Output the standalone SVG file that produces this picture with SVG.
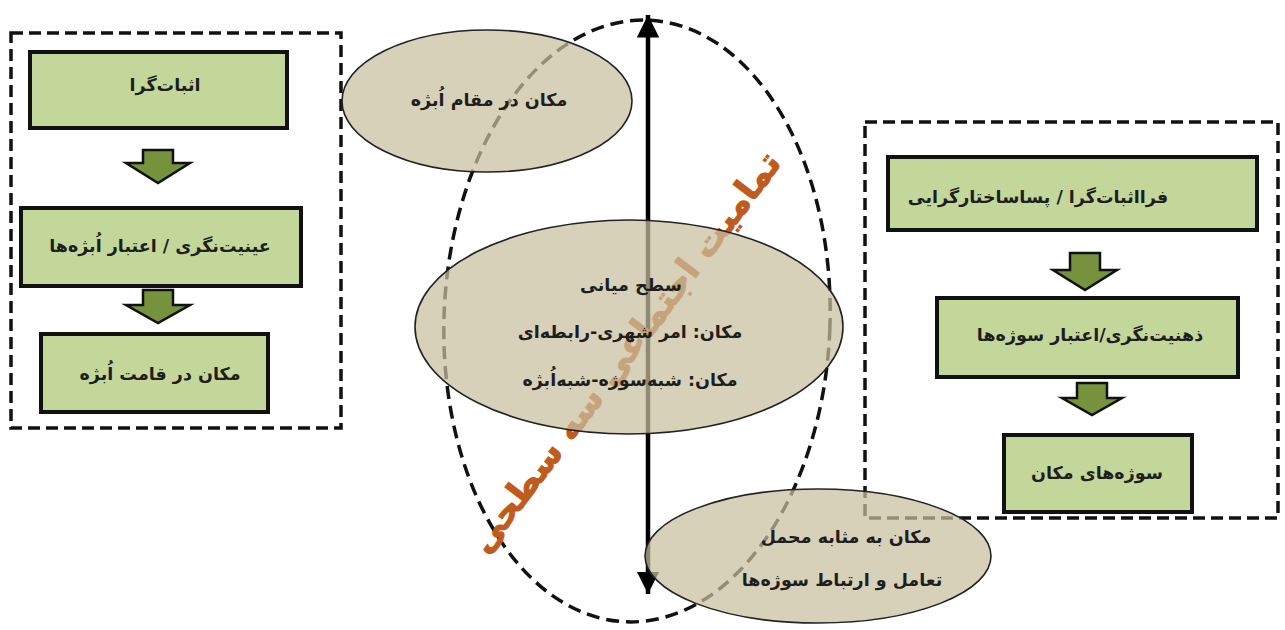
<svg xmlns="http://www.w3.org/2000/svg" width="1285" height="630" viewBox="0 0 1285 630">
<style>
  .fa { font-family: 'DejaVu Sans', 'Noto Sans', sans-serif; font-size: 17.5px; font-weight: bold; fill: #1e1e1e; text-anchor: middle; direction: rtl; }
  .box { fill: #c4d79b; stroke: #111; stroke-width: 4; }
  .frame { fill: none; stroke: #111; stroke-width: 3.5; stroke-dasharray: 12 6; }
  .garrow { fill: #76923c; stroke: #111; stroke-width: 2.5; stroke-linejoin: miter; }
  .oval { fill: #c9bf9f; fill-opacity: 0.72; stroke: #222; stroke-width: 1.6; }
  .big { fill: none; stroke: #111; stroke-width: 3.5; stroke-dasharray: 13 7; }
  .orange { font-family: 'DejaVu Sans', sans-serif; font-weight: bold; font-size: 35px; fill: #bf5b1c; stroke: #bf5b1c; stroke-width: 1; text-anchor: middle; direction: rtl; }
</style>
<defs>
  <marker id="ah" viewBox="0 0 10 10" refX="10" refY="5" markerWidth="5" markerHeight="5" orient="auto-start-reverse" markerUnits="strokeWidth">
    <path d="M0,0 L10,5 L0,10 z" fill="#000"/>
  </marker>
</defs>

<rect width="1285" height="630" fill="#ffffff"/>

<g id="connectors">
  <ellipse id="whole" class="big" cx="637" cy="321" rx="193" ry="301" transform="rotate(2 637 321)"/>
  <line x1="648" y1="15" x2="648" y2="594" stroke="#000" stroke-width="4.5" marker-start="url(#ah)" marker-end="url(#ah)"/>
  <polygon class="garrow" points="143,150 173,150 173,163 190,163 158,183 126,163 143,163"/>
  <polygon class="garrow" points="143,290 173,290 173,305 190,305 158,323 126,305 143,305"/>
  <polygon class="garrow" points="1070,253 1100,253 1100,270 1117,270 1085,290 1053,270 1070,270"/>
  <polygon class="garrow" points="1077,383 1107,383 1107,398 1122,398 1092,415 1062,398 1077,398"/>
</g>

<g id="title">
  <text class="orange" transform="translate(625,352) rotate(-53)" y="12">تمامیت اجتماعی سه سطحی</text>
</g>

<g id="left-group">
  <rect class="frame" x="11" y="33" width="330" height="395"/>
  <g id="n1"><rect class="box" x="30" y="52" width="257" height="76"/><text class="fa" x="165" y="91">اثبات‌گرا</text></g>
  <g id="n2"><rect class="box" x="21" y="208" width="280" height="78"/><text class="fa" x="160" y="252">عینیت‌نگری / اعتبار اُبژه‌ها</text></g>
  <g id="n3"><rect class="box" x="41" y="334" width="227" height="78"/><text class="fa" x="160" y="380">مکان در قامت اُبژه</text></g>
</g>

<g id="right-group">
  <rect class="frame" x="865" y="122" width="413" height="396"/>
  <g id="n4"><rect class="box" x="888" y="157" width="369" height="73"/><text class="fa" x="1038" y="203">فرااثبات‌گرا / پساساختارگرایی</text></g>
  <g id="n5"><rect class="box" x="937" y="298" width="301" height="79"/><text class="fa" x="1090" y="341">ذهنیت‌نگری/اعتبار سوژه‌ها</text></g>
  <g id="n6"><rect class="box" x="1004" y="435" width="188" height="77"/><text class="fa" x="1097" y="479">سوژه‌های مکان</text></g>
</g>

<g id="e-top">
  <ellipse class="oval" cx="487" cy="101" rx="145" ry="71"/>
  <text class="fa" x="489" y="106">مکان در مقام اُبژه</text>
</g>
<g id="e-mid">
  <ellipse class="oval" cx="629" cy="327" rx="214" ry="107"/>
  <text class="fa" x="631" y="291">سطح میانی</text>
  <text class="fa" x="630" y="338">مکان: امر شهری-رابطه‌ای</text>
  <text class="fa" x="630" y="386">مکان: شبه‌سوژه-شبه‌اُبژه</text>
</g>
<g id="e-bot">
  <ellipse class="oval" cx="818" cy="556" rx="173" ry="67"/>
  <text class="fa" x="846" y="543">مکان به مثابه محمل</text>
  <text class="fa" x="842" y="586">تعامل و ارتباط سوژه‌ها</text>
</g>
</svg>
